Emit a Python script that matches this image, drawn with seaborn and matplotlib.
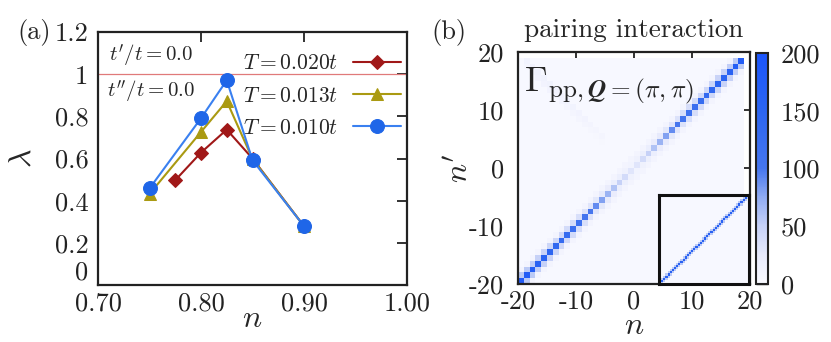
import numpy as np
import pandas as pd
import matplotlib
matplotlib.use("Agg")
import matplotlib.pyplot as plt
import seaborn as sns
from matplotlib.colors import LinearSegmentedColormap
from matplotlib.mathtext import MathTextParser

# ---------------- data: panel (a) ----------------
n_red = [0.775, 0.800, 0.825, 0.850, 0.900]
lam_red = [0.497, 0.628, 0.737, 0.600, 0.279]
n_yel = [0.750, 0.800, 0.825, 0.850, 0.900]
lam_yel = [0.432, 0.726, 0.872, 0.598, 0.279]
n_blu = [0.750, 0.800, 0.825, 0.850, 0.900]
lam_blu = [0.458, 0.791, 0.971, 0.592, 0.279]
series_labels = [r'$T=0.020t$', r'$T=0.013t$', r'$T=0.010t$']
lambda_crit = 1.0
xticks_a = [0.70, 0.80, 0.90, 1.00]
xticklabels_a = ['0.70', '0.80', '0.90', '1.00']
yticks_a = [0, 0.2, 0.4, 0.6, 0.8, 1.0, 1.2]
yticklabels_a = ['0', '0.2', '0.4', '0.6', '0.8', '1', '1.2']

# ---------------- data: panel (b) ----------------
freq = list(range(-20, 19))  # Matsubara index n of each cell
diag_vals = [180, 175, 170, 160, 155, 150, 140, 135, 130, 120, 115, 105, 100, 90,
             80, 70, 60, 50, 40, 30, 30, 40, 50, 60, 70, 80, 90, 100, 105, 115,
             120, 130, 135, 140, 150, 155, 160, 170, 175]
offdiag_vals = [55, 55, 52, 50, 48, 46, 44, 42, 40, 38, 36, 33, 30, 28, 25, 22, 20, 18, 15,
                12,
                15, 18, 20, 22, 25, 28, 30, 33, 36, 38, 40, 42, 44, 46, 48, 50, 52, 55]
second_off_val = 10
background_val = 4
antidiag_n = [-19, -18, -17, -16, -15, -14, -13, -12, -11, -10, -9, -8, -7, -6]
antidiag_vals = [12, 13, 14, 14, 14, 13, 13, 12, 12, 11, 11, 10, 9, 8]
ticks_b = [-20, -10, 0, 10, 20]
ticklabels_b = ['-20', '-10', '0', '10', '20']
cbar_ticks = [0, 50, 100, 150, 200]
cbar_ticklabels = ['0', '50', '100', '150', '200']
vmin, vmax = 0, 200

# inset (larger frequency window)
inset_size = 42
inset_diag_val = 160
inset_off_val = 55
inset_bg_val = 4

# ---------------- build matrices ----------------
N = len(freq)
M = np.full((N, N), float(background_val))
for k in range(N - 2):
    M[k, k + 2] = M[k + 2, k] = second_off_val
for k, v in enumerate(offdiag_vals):
    M[k, k + 1] = M[k + 1, k] = v
for k, v in enumerate(diag_vals):
    M[k, k] = v
for nn, v in zip(antidiag_n, antidiag_vals):
    i = freq.index(nn)
    j = freq.index(-nn - 1)
    M[j, i] = max(M[j, i], v)
    if j - 1 >= 0:
        M[j - 1, i] = max(M[j - 1, i], v - 3)

Mi = np.full((inset_size, inset_size), float(inset_bg_val))
for k in range(inset_size - 1):
    Mi[k, k + 1] = Mi[k + 1, k] = inset_off_val
for k in range(inset_size):
    Mi[k, k] = inset_diag_val

# ---------------- style ----------------
sns.set_theme(style="white")
plt.rcParams['font.family'] = ['cmr10', 'DejaVu Serif']
plt.rcParams['mathtext.fontset'] = 'cm'
plt.rcParams['axes.unicode_minus'] = False
plt.rcParams['axes.formatter.use_mathtext'] = True

cmap = LinearSegmentedColormap.from_list(
    'pp', [(0.0, '#fafaff'), (0.12, '#e8ebfc'), (0.25, '#c6d1f7'),
           (0.38, '#8eaaf2'), (0.5, '#4676ee'), (0.75, '#2c65f1'), (1.0, '#1b55fb')])

W, H = 831, 342
fig = plt.figure(figsize=(W / 100, H / 100), dpi=100)

def fbox(x0, y0, x1, y1):
    return [x0 / W, 1 - y1 / H, (x1 - x0) / W, (y1 - y0) / H]

axa = fig.add_axes(fbox(98, 32, 407, 285))
axb = fig.add_axes(fbox(518, 52, 750, 284))
cax = fig.add_axes(fbox(756, 53, 768, 284))
axi = fig.add_axes(fbox(659, 195, 749, 284))

TICK_FS = 19

# ---------------- panel (a) ----------------
red, yel = '#a01818', '#aa9a12'
df_r = pd.DataFrame({'n': n_red, 'lam': lam_red})
df_y = pd.DataFrame({'n': n_yel, 'lam': lam_yel})
df_b = pd.DataFrame({'n': n_blu, 'lam': lam_blu})
axa.axhline(lambda_crit, color='#e07a7a', lw=0.9, zorder=1)
sns.lineplot(data=df_r, x='n', y='lam', ax=axa, color=red, marker='D', markersize=7,
             markeredgecolor=red, lw=1.5, label=series_labels[0], zorder=3)
sns.lineplot(data=df_y, x='n', y='lam', ax=axa, color=yel, marker='^', markersize=9,
             markeredgecolor=yel, lw=1.5, label=series_labels[1], zorder=4)
sns.lineplot(data=df_b, x='n', y='lam', ax=axa, color='#3a80f0', marker='o', markersize=10,
             markerfacecolor='#1f66e8', markeredgecolor='#1f66e8', lw=1.5,
             label=series_labels[2], zorder=5)
axa.set_xlim(0.70, 1.00)
axa.set_ylim(0, 1.2)
axa.set_xticks(xticks_a)
axa.set_xticklabels(xticklabels_a)
axa.set_yticks(yticks_a)
axa.set_yticklabels(yticklabels_a)
axa.tick_params(direction='in', length=7, width=1.3, top=True, right=True,
                labelsize=TICK_FS, colors='#222222')
axa.tick_params(axis='y', pad=7)
axa.tick_params(axis='x', pad=5)
axa.get_yticklabels()[0].set_verticalalignment('bottom')
axa.set_xlabel(r'$n$', fontsize=23)
axa.xaxis.set_label_coords(0.498, -0.08)
axa.set_ylabel(r'$\lambda$', fontsize=23)
axa.yaxis.set_label_coords(-0.2, 0.5)
for s in axa.spines.values():
    s.set_visible(True)
    s.set_linewidth(1.6)
    s.set_color('#222222')
leg = axa.legend(loc='upper right', frameon=False, markerfirst=False, fontsize=15.5,
                 handlelength=2.2, labelspacing=0.6, borderaxespad=0.0, borderpad=0.3,
                 handletextpad=0.7, bbox_to_anchor=(1.0, 0.94))
axa.text(0.035, 0.905, r"$t'/t=0.0$", transform=axa.transAxes, fontsize=15, va='center')
axa.text(0.03, 0.765, r"$t''/t=0.0$", transform=axa.transAxes, fontsize=15, va='center')

# ---------------- panel (b) ----------------
sns.heatmap(M, ax=axb, cmap=cmap, vmin=vmin, vmax=vmax, cbar_ax=cax,
            xticklabels=False, yticklabels=False)
axb.set_facecolor('white')
axb.set_xlim(0, 40)
axb.set_ylim(0, 40)
pos = [t - ticks_b[0] for t in ticks_b]
axb.set_xticks(pos)
axb.set_xticklabels(ticklabels_b)
axb.set_yticks(pos)
axb.set_yticklabels(ticklabels_b)
axb.tick_params(direction='in', length=7, width=1.3, top=True, right=True,
                bottom=True, left=True, labelsize=TICK_FS, colors='#222222')
axb.tick_params(axis='y', pad=10)
axb.tick_params(axis='x', pad=4)
for lab in axb.get_yticklabels():
    lab.set_rotation(0)
for s in axb.spines.values():
    s.set_visible(True)
    s.set_linewidth(1.6)
    s.set_color('#222222')
axb.set_xlabel(r'$n$', fontsize=23)
axb.xaxis.set_label_coords(0.5, -0.125)
axb.set_ylabel(r"$n'$", fontsize=23)
axb.yaxis.set_label_coords(-0.19, 0.5)

cbar = axb.collections[0].colorbar
cbar.set_ticks(cbar_ticks)
cbar.set_ticklabels(cbar_ticklabels)
cbar.ax.tick_params(direction='in', length=8.6, width=1.0, labelsize=TICK_FS, pad=9,
                    colors='#222222')
cbar.outline.set_linewidth(1.5)
cbar.outline.set_edgecolor('#222222')

gamma = r'$\Gamma_{\mathrm{pp},\mathbfit{Q}=(\pi,\pi)}$'
try:
    MathTextParser('path').parse(gamma)
except Exception:
    gamma = r'$\Gamma_{\mathrm{pp},\mathbf{Q}=(\pi,\pi)}$'
fig.text(524 / W, 1 - 91 / H, gamma, fontsize=26, ha='left', va='baseline')

# inset
sns.heatmap(Mi, ax=axi, cmap=cmap, vmin=vmin, vmax=vmax, cbar=False,
            xticklabels=False, yticklabels=False)
axi.set_xlim(0, inset_size)
axi.set_ylim(0, inset_size)
q = [inset_size * f for f in (0.25, 0.5, 0.75)]
axi.set_xticks(q)
axi.set_yticks(q)
axi.tick_params(direction='in', length=4, width=0.8, top=True, right=True,
                bottom=True, left=True, labelbottom=False, labelleft=False,
                colors='#333333')
for s in axi.spines.values():
    s.set_visible(True)
    s.set_linewidth(2.2)
    s.set_color('#111111')

# ---------------- labels ----------------
fig.text(34 / W, 1 - 33 / H, '(a)', fontsize=19, ha='center', va='center')
fig.text(449 / W, 1 - 33 / H, '(b)', fontsize=19, ha='center', va='center')
fig.text(634 / W, 1 - 30 / H, 'pairing interaction', fontsize=19.5, ha='center', va='center')

fig.savefig('out.png', dpi=100)
